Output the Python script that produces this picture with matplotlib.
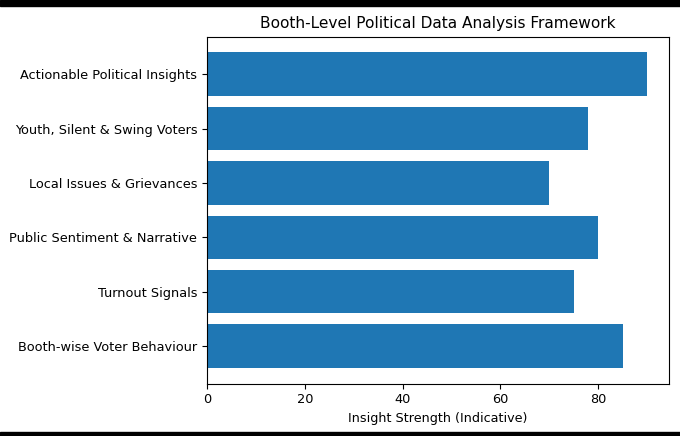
import matplotlib.pyplot as plt
from matplotlib.patches import Rectangle

categories = [
    'Booth-wise Voter Behaviour',
    'Turnout Signals',
    'Public Sentiment & Narrative',
    'Local Issues & Grievances',
    'Youth, Silent & Swing Voters',
    'Actionable Political Insights',
]
strength = [85, 75, 80, 70, 78, 90]

fig = plt.figure(figsize=(6.8, 4.36), dpi=100)
ax = fig.add_axes([0.3044, 0.1204, 0.6794, 0.7954])
ax.barh(categories, strength, color='#1f77b4')
ax.set_xlabel('Insight Strength (Indicative)', fontsize=9.2)
ax.set_title('Booth-Level Political Data Analysis Framework', fontsize=11.1)
ax.tick_params(labelsize=9.25)

# black letterbox bands from the screenshot
fig.patches.append(Rectangle((0, 1 - 6 / 436), 1, 6 / 436, transform=fig.transFigure, color='black'))
fig.patches.append(Rectangle((0, 0), 1, 4 / 436, transform=fig.transFigure, color='black'))

fig.savefig('out.png', dpi=100)
